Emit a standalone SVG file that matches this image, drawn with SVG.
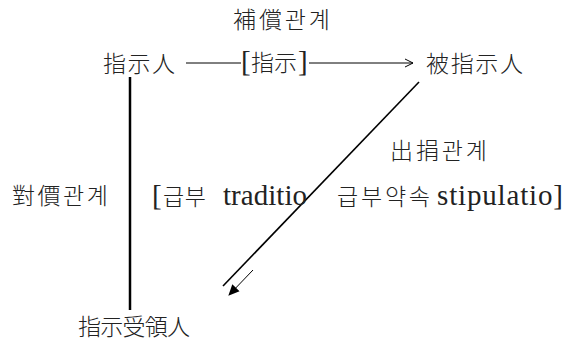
<svg xmlns="http://www.w3.org/2000/svg" width="565" height="341" viewBox="0 0 565 341">
<style>
.cjk{font-family:"Noto Sans CJK KR",sans-serif;font-size:23px;font-weight:300;fill:#222}
.lat{font-family:"Liberation Serif",serif;font-size:29px;font-weight:400;fill:#222}
.ln{stroke:#000;fill:none}
</style>
<defs>
<marker id="open" markerWidth="10" markerHeight="10" refX="9" refY="5" orient="auto" markerUnits="userSpaceOnUse">
<path d="M1,1 L9,5 L1,9" fill="none" stroke="#000" stroke-width="1"/>
</marker>
<marker id="fill" markerWidth="12" markerHeight="12" refX="10" refY="6" orient="auto" markerUnits="userSpaceOnUse">
<path d="M0,1 L11,6 L0,11 Z" fill="#000"/>
</marker>
</defs>
<rect width="565" height="341" fill="#fff"/>
<g id="connectors">
<line class="ln" x1="186" y1="63" x2="241" y2="63" stroke-width="1"/>
<line class="ln" x1="309" y1="63" x2="413" y2="63" stroke-width="1" marker-end="url(#open)"/>
<line class="ln" x1="130" y1="77" x2="130" y2="310" stroke-width="2.5"/>
<line class="ln" x1="419" y1="82" x2="223" y2="286" stroke-width="1.6"/>
<line class="ln" x1="253" y1="270" x2="229" y2="295" stroke-width="1" marker-end="url(#fill)"/>
</g>
<g id="label-bosang"><text class="cjk" x="233" y="28" textLength="97" lengthAdjust="spacing">補償관계</text></g>
<g id="node-jisiin"><text class="cjk" x="103" y="72" textLength="72" lengthAdjust="spacing">指示人</text></g>
<g id="label-jisi"><text class="lat" x="241" y="71" font-size="27px">[</text><text class="cjk" x="251" y="71">指示</text><text class="lat" x="298" y="71" font-size="27px">]</text></g>
<g id="node-pijisiin"><text class="cjk" x="426" y="72" textLength="97" lengthAdjust="spacing">被指示人</text></g>
<g id="label-chulyeon"><text class="cjk" x="390" y="159" textLength="97" lengthAdjust="spacing">出捐관계</text></g>
<g id="label-daega"><text class="cjk" x="12" y="204" textLength="96" lengthAdjust="spacing">對價관계</text></g>
<g id="label-geupbu"><text class="lat" x="152" y="205" font-size="27px">[</text><text class="cjk" x="163" y="205" textLength="43" lengthAdjust="spacing">급부</text><text class="lat" x="223" y="205" textLength="84" lengthAdjust="spacing">traditio</text></g>
<g id="label-yaksok"><text class="cjk" x="337" y="205" textLength="93" lengthAdjust="spacing">급부약속</text><text class="lat" x="437" y="205" textLength="126" lengthAdjust="spacing">stipulatio]</text></g>
<g id="node-susuryeongin"><text class="cjk" x="78" y="335" textLength="112" lengthAdjust="spacing">指示受領人</text></g>
</svg>
